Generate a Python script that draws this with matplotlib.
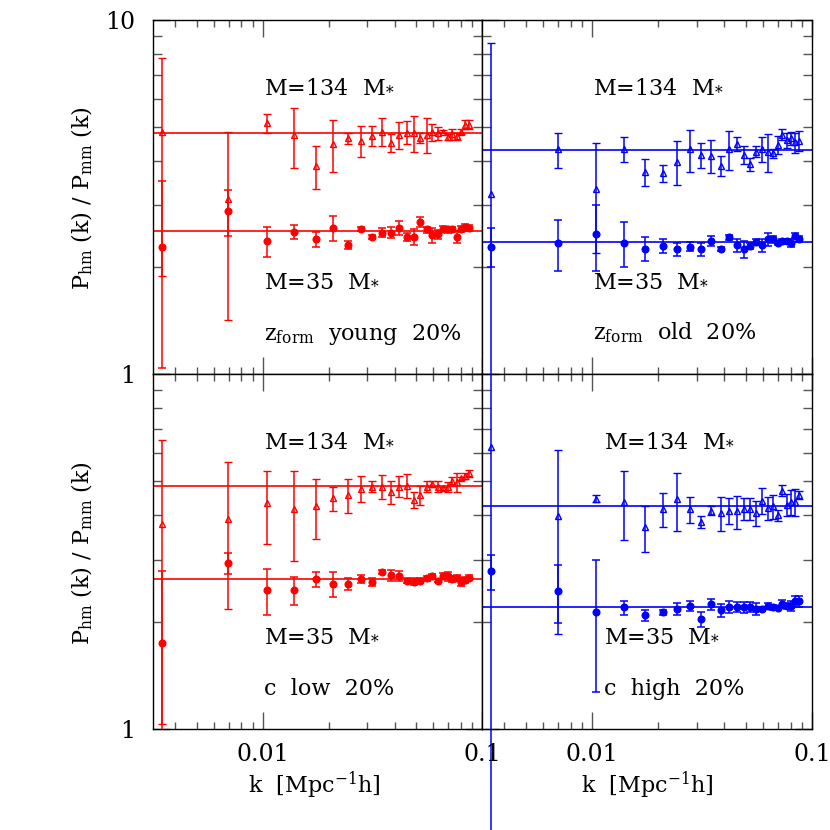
import numpy as np
import matplotlib
matplotlib.use('Agg')
import matplotlib.pyplot as plt
from matplotlib import ticker

plt.rcParams['font.family'] = ['DejaVu Serif']
plt.rcParams['mathtext.fontset'] = 'dejavuserif'

# wavenumbers k [h/Mpc]
k = [0.00349, 0.00698, 0.01047, 0.01396, 0.01745, 0.02094, 0.02443, 0.02793,
     0.03142, 0.03491, 0.03840, 0.04189, 0.04538, 0.04887, 0.05236, 0.05585,
     0.05934, 0.06283, 0.06632, 0.06981, 0.07330, 0.07679, 0.08029, 0.08378, 0.08727]

# --- z_form young 20% (top left, red)
young_hi = [4.84, 3.12, 5.11, 4.72, 3.87, 4.47, 4.64, 4.56, 4.71, 4.84, 4.49, 4.74, 4.81,
            4.79, 4.64, 4.74, 4.82, 4.79, 4.84, 4.67, 4.76, 4.69, 4.84, 5.06, 5.06]
young_hi_err = [2.95, 1.7, 0.3, 0.91, 0.53, 0.74, 0.17, 0.45, 0.3, 0.43, 0.26, 0.41, 0.36,
                0.55, 0.15, 0.53, 0.28, 0.2, 0.06, 0.1, 0.17, 0.1, 0.08, 0.15, 0.15]
young_lo = [2.28, 2.88, 2.37, 2.52, 2.40, 2.59, 2.32, 2.57, 2.44, 2.51, 2.51, 2.59, 2.44,
            2.44, 2.69, 2.56, 2.47, 2.48, 2.57, 2.56, 2.56, 2.44, 2.57, 2.61, 2.58]
young_lo_err = [1.24, 0.43, 0.23, 0.11, 0.12, 0.21, 0.06, 0.04, 0.03, 0.07, 0.09, 0.12, 0.06,
                0.13, 0.08, 0.05, 0.12, 0.07, 0.05, 0.05, 0.04, 0.09, 0.05, 0.05, 0.05]
young_ref = [4.79, 2.54]

# --- z_form old 20% (top right, blue)
old_hi = [3.22, 4.32, 3.34, 4.32, 3.72, 3.69, 3.98, 4.31, 4.16, 4.14, 3.87, 4.32, 4.47,
          4.16, 3.91, 4.25, 4.32, 4.25, 4.20, 4.44, 4.74, 4.57, 4.64, 4.51, 4.56]
old_hi_err = [5.37, 0.49, 1.15, 0.36, 0.33, 0.2, 0.56, 0.59, 0.33, 0.44, 0.25, 0.54, 0.2,
              0.25, 0.17, 0.15, 0.35, 0.52, 0.13, 0.27, 0.17, 0.23, 0.2, 0.3, 0.3]
old_lo = [2.29, 2.34, 2.48, 2.34, 2.26, 2.30, 2.25, 2.29, 2.25, 2.38, 2.25, 2.43, 2.31,
          2.25, 2.30, 2.36, 2.31, 2.40, 2.40, 2.34, 2.37, 2.37, 2.35, 2.46, 2.41]
old_lo_err = [0.29, 0.39, 0.52, 0.34, 0.18, 0.11, 0.09, 0.07, 0.09, 0.08, 0.03, 0.04, 0.1,
              0.12, 0.04, 0.05, 0.1, 0.1, 0.05, 0.03, 0.04, 0.04, 0.06, 0.04, 0.05]
old_ref = [4.30, 2.36]

# --- c low 20% (bottom left, red)
clow_hi = [3.78, 3.91, 4.33, 4.16, 4.24, 4.47, 4.55, 4.75, 4.81, 4.82, 4.65, 4.82, 4.85,
           4.42, 4.55, 4.82, 4.91, 4.82, 4.77, 4.81, 4.98, 4.95, 5.09, 5.17, 5.26]
clow_hi_err = [2.75, 1.73, 1.0, 1.18, 0.82, 0.35, 0.5, 0.4, 0.17, 0.37, 0.35, 0.33, 0.38,
               0.24, 0.28, 0.18, 0.1, 0.18, 0.05, 0.15, 0.15, 0.3, 0.05, 0.1, 0.12]
clow_lo = [1.75, 2.93, 2.46, 2.46, 2.64, 2.56, 2.56, 2.65, 2.60, 2.77, 2.71, 2.70, 2.62,
           2.60, 2.62, 2.66, 2.70, 2.62, 2.70, 2.69, 2.65, 2.66, 2.60, 2.63, 2.67]
clow_lo_err = [1.04, 0.2, 0.37, 0.22, 0.12, 0.2, 0.1, 0.07, 0.07, 0.04, 0.1, 0.08, 0.04,
               0.06, 0.04, 0.04, 0.03, 0.03, 0.05, 0.07, 0.05, 0.05, 0.07, 0.05, 0.04]
clow_ref = [4.85, 2.65]

# --- c high 20% (bottom right, blue)
chigh_hi = [6.21, 3.97, 4.45, 4.36, 3.70, 4.17, 4.44, 4.16, 3.84, 4.12, 4.06, 4.12, 4.10,
            4.17, 4.17, 4.06, 4.39, 4.19, 4.24, 4.00, 4.69, 4.28, 4.36, 4.36, 4.57]
chigh_hi_err = [6.5, 2.12, 0.1, 0.96, 0.54, 0.46, 0.82, 0.35, 0.15, 0.12, 0.44, 0.35, 0.44,
                0.3, 0.3, 0.32, 0.37, 0.3, 0.33, 0.15, 0.17, 0.3, 0.35, 0.37, 0.12]
chigh_lo = [2.78, 2.44, 2.13, 2.20, 2.09, 2.13, 2.18, 2.22, 2.04, 2.25, 2.16, 2.21, 2.21,
            2.20, 2.21, 2.18, 2.18, 2.22, 2.20, 2.19, 2.25, 2.22, 2.22, 2.30, 2.29]
chigh_lo_err = [0.31, 0.45, 0.86, 0.1, 0.07, 0.04, 0.08, 0.07, 0.1, 0.08, 0.09, 0.09, 0.07,
                0.08, 0.07, 0.08, 0.03, 0.04, 0.03, 0.03, 0.06, 0.04, 0.07, 0.07, 0.08]
chigh_ref = [4.24, 2.20]

labels_hi = 'M=134  M$_{*}$'
labels_lo = 'M=35  M$_{*}$'
panel_titles = ['z$_{\\rm form}$  young  20%', 'z$_{\\rm form}$  old  20%',
                'c  low  20%', 'c  high  20%']

RED = '#ff0000'
BLUE = '#0000ff'
TICKC = '#555555'
FS = 16
TFS = 17

fig = plt.figure(figsize=(8.3, 8.3), dpi=100)
W, H = 830.0, 830.0
xL, xM, xR = 153 / W, 482 / W, 812 / W
yT, yM, yB = 1 - 20 / H, 1 - 374 / H, 1 - 729 / H

panels = [
    dict(rect=[xL, yM, xM - xL, yT - yM], hi=young_hi, hie=young_hi_err, lo=young_lo,
         loe=young_lo_err, ref=young_ref, c=RED, title=panel_titles[0], tx=0.337,
         ylab=True, xlab=False, ytop=True, noclip=[]),
    dict(rect=[xM, yM, xR - xM, yT - yM], hi=old_hi, hie=old_hi_err, lo=old_lo,
         loe=old_lo_err, ref=old_ref, c=BLUE, title=panel_titles[1], tx=0.336,
         ylab=False, xlab=False, ytop=False, noclip=[0]),
    dict(rect=[xL, yB, xM - xL, yM - yB], hi=clow_hi, hie=clow_hi_err, lo=clow_lo,
         loe=clow_lo_err, ref=clow_ref, c=RED, title=panel_titles[2], tx=0.337,
         ylab=True, xlab=True, ytop=False, noclip=[]),
    dict(rect=[xM, yB, xR - xM, yM - yB], hi=chigh_hi, hie=chigh_hi_err, lo=chigh_lo,
         loe=chigh_lo_err, ref=chigh_ref, c=BLUE, title=panel_titles[3], tx=0.37,
         ylab=False, xlab=True, ytop=False, noclip=[]),
]

for p in panels:
    ax = fig.add_axes(p['rect'])
    ax.set_xscale('log')
    ax.set_yscale('log')
    ax.set_xlim(10 ** -2.5, 0.1)
    ax.set_ylim(1, 10)
    c = p['c']
    for r in p['ref']:
        ax.axhline(r, color=c, lw=1.2, zorder=1)
    common = dict(ecolor=c, elinewidth=1.1, capsize=2.6, capthick=1.1, zorder=3)
    ax.errorbar(k, p['lo'], yerr=p['loe'], fmt='o', ms=4.8, mfc=c, mec=c, **common)
    idx = [i for i in range(len(k)) if i not in p['noclip']]
    ax.errorbar([k[i] for i in idx], [p['hi'][i] for i in idx],
                yerr=[p['hie'][i] for i in idx], fmt='^', ms=4.4, mfc='none',
                mec=c, mew=1.0, **common)
    for i in p['noclip']:
        cont = ax.errorbar([k[i]], [p['hi'][i]], yerr=[p['hie'][i]], fmt='^', ms=4.4,
                           mfc='none', mec=c, mew=1.0, **common)
        for art in cont.get_children():
            art.set_clip_on(False)

    ax.text(p['tx'], 0.797, labels_hi, transform=ax.transAxes, fontsize=FS,
            va='baseline', ha='left')
    ax.text(p['tx'], 0.248, labels_lo, transform=ax.transAxes, fontsize=FS,
            va='baseline', ha='left')
    ax.text(p['tx'], 0.097, p['title'], transform=ax.transAxes, fontsize=FS,
            va='baseline', ha='left')

    ax.tick_params(which='both', direction='in', top=True, right=True, color=TICKC,
                   width=1.0, labelsize=TFS)
    ax.tick_params(axis='x', which='both', pad=10)
    ax.tick_params(axis='y', which='both', pad=13)
    ax.tick_params(which='major', length=12)
    ax.tick_params(axis='x', which='minor', length=5)
    ax.tick_params(axis='y', which='minor', length=6.5)
    ax.xaxis.set_major_locator(ticker.LogLocator(base=10, numticks=10))
    ax.xaxis.set_minor_locator(ticker.LogLocator(base=10, subs=np.arange(2, 10), numticks=20))
    ax.yaxis.set_major_locator(ticker.LogLocator(base=10, numticks=10))
    ax.yaxis.set_minor_locator(ticker.LogLocator(base=10, subs=np.arange(2, 10), numticks=20))
    ax.xaxis.set_minor_formatter(ticker.NullFormatter())
    ax.yaxis.set_minor_formatter(ticker.NullFormatter())
    if p['xlab']:
        ax.xaxis.set_major_formatter(ticker.FuncFormatter(lambda v, pos: f'{v:g}'))
    else:
        ax.xaxis.set_major_formatter(ticker.NullFormatter())
    if p['ylab']:
        if p['ytop']:
            ax.yaxis.set_major_formatter(ticker.FuncFormatter(lambda v, pos: f'{v:g}'))
        else:
            ax.yaxis.set_major_formatter(ticker.FuncFormatter(
                lambda v, pos: f'{v:g}' if v < 5 else ''))
    else:
        ax.yaxis.set_major_formatter(ticker.NullFormatter())
    for s in ax.spines.values():
        s.set_linewidth(1.0)
        s.set_color('black')

ylabel = 'P$_{\\rm hm}$ (k) / P$_{\\rm mm}$ (k)'
fig.text(82 / W, 1 - 198 / H, ylabel, rotation=90, ha='center', va='center', fontsize=FS)
fig.text(82 / W, 1 - 553 / H, ylabel, rotation=90, ha='center', va='center', fontsize=FS)
xlabel = 'k  [Mpc$^{-1}$h]'
fig.text(314 / W, 1 - 785 / H, xlabel, ha='center', va='center', fontsize=FS)
fig.text(647 / W, 1 - 785 / H, xlabel, ha='center', va='center', fontsize=FS)

fig.savefig('out.png', dpi=100)
